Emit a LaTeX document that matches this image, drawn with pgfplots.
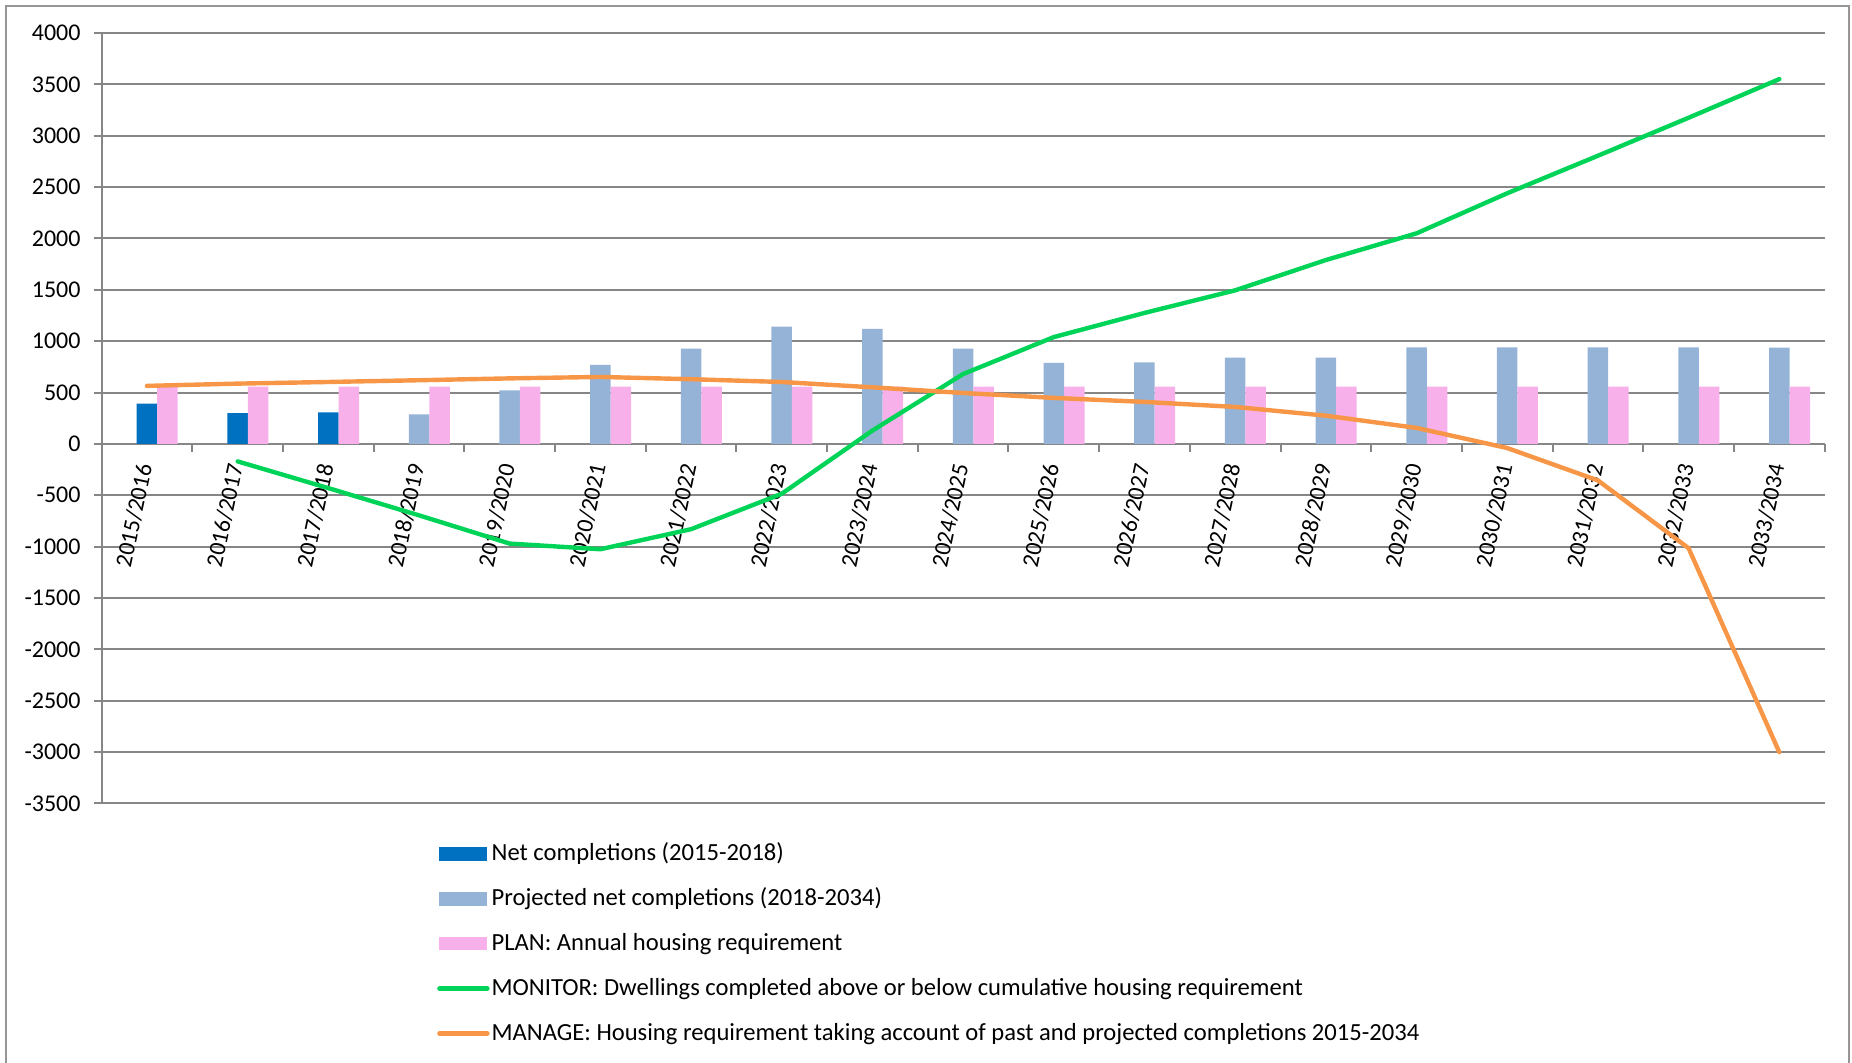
\documentclass[border=0pt]{standalone}
\usepackage{fontspec}
\setmainfont{Carlito}
\usepackage{pgfplots}
\pgfplotsset{compat=1.18}
\definecolor{netc}{RGB}{0,112,192}
\definecolor{projc}{RGB}{149,179,215}
\definecolor{planc}{RGB}{247,176,233}
\definecolor{monc}{RGB}{0,212,88}
\definecolor{manc}{RGB}{247,150,70}
\definecolor{gridc}{RGB}{134,134,134}
\definecolor{framec}{RGB}{150,150,150}
\newcommand{\chartfont}{\fontsize{12}{14}\selectfont}
\newcommand{\legfont}{\fontsize{12.3}{14}\selectfont}
\newcommand{\xlabfont}{\fontsize{11.8}{14}\selectfont}
\begin{document}
\begin{tikzpicture}
\begin{axis}[
  at={(50.8pt,129.75pt)}, anchor=south west,
  scale only axis, width=861.5pt, height=385.25pt,
  xmin=-0.5, xmax=18.5, ymin=-3500, ymax=4000,
  axis x line=middle, axis y line=left,
  hide obscured x ticks=false, hide obscured y ticks=false,
  x axis line style={-}, y axis line style={-},
  axis line style={draw=gridc, line width=1pt},
  ytick={-3500,-3000,-2500,-2000,-1500,-1000,-500,0,500,1000,1500,2000,2500,3000,3500,4000},
  yticklabels={-3500,-3000,-2500,-2000,-1500,-1000,-500,0,500,1000,1500,2000,2500,3000,3500,4000},
  ymajorgrids, grid style={draw=gridc, line width=1pt},
  xtick={0,...,18},
  xticklabels={2015/2016,2016/2017,2017/2018,2018/2019,2019/2020,2020/2021,2021/2022,2022/2023,2023/2024,2024/2025,2025/2026,2026/2027,2027/2028,2028/2029,2029/2030,2030/2031,2031/2032,2032/2033,2033/2034},
  minor xtick={-0.5,0.5,...,18.5},
  tick align=outside,
  major tick length=4pt, minor tick length=4pt,
  every tick/.style={draw=gridc, line width=1pt},
  major x tick style={draw=none},
  yticklabel style={font=\chartfont, xshift=-3pt},
  xticklabel style={font=\xlabfont, inner sep=0pt, xshift=-1pt, yshift=-6pt, rotate=78, anchor=east},
  legend cell align=left,
  legend style={at={(axis description cs:0.1948,-0.0506)}, anchor=north west,
    draw=none, fill=none, inner sep=0pt, outer sep=0pt,
    row sep=10.95pt, column sep=1pt,
    nodes={inner sep=0pt, text height=9pt, text depth=2.5pt, font=\legfont}},
]
\addplot[ybar, bar width=10.25pt, bar shift=0pt, fill=netc, draw=none,
  legend image code/.code={\fill[netc] (0pt,-3.35pt) rectangle (23.8pt,3.35pt);}]
  coordinates {(0,392) (1,300) (2,307)};
\addlegendentry{Net completions (2015-2018)}
\addplot[ybar, bar width=10.25pt, bar shift=0pt, fill=projc, draw=none,
  legend image code/.code={\fill[projc] (0pt,-3.35pt) rectangle (23.8pt,3.35pt);}]
  coordinates {(3,288) (4,522) (5,769) (6,927) (7,1141) (8,1119) (9,927) (10,790) (11,794) (12,840) (13,840) (14,940) (15,940) (16,940) (17,940) (18,938)};
\addlegendentry{Projected net completions (2018-2034)}
\addplot[ybar, bar width=10.25pt, bar shift=10.25pt, fill=planc, draw=none,
  legend image code/.code={\fill[planc] (0pt,-3.35pt) rectangle (23.8pt,3.35pt);}]
  coordinates {(0,557) (1,557) (2,557) (3,557) (4,557) (5,557) (6,557) (7,557) (8,557) (9,557) (10,557) (11,557) (12,557) (13,557) (14,557) (15,557) (16,557) (17,557) (18,557)};
\addlegendentry{PLAN: Annual housing requirement}
\addplot[monc, line width=2.2pt, line cap=round, line join=round,
  legend image code/.code={\draw[monc, line width=2.2pt] (0pt,0pt) -- (24pt,0pt);}]
  coordinates {(1,-170) (2,-430) (3,-695) (4,-970) (5,-1025) (6,-830) (7,-485) (8,130) (9,680) (10,1040) (11,1275) (12,1495) (13,1790) (14,2050) (15,2440) (16,2805) (17,3175) (18,3551)};
\addlegendentry{MONITOR: Dwellings completed above or below cumulative housing requirement}
\addplot[manc, line width=2.2pt, line cap=round, line join=round,
  legend image code/.code={\draw[manc, line width=2.2pt] (0pt,0pt) -- (24pt,0pt);}]
  coordinates {(0,565) (1,587) (2,603) (3,620) (4,638) (5,652) (6,630) (7,603) (8,551) (9,496) (10,448) (11,409) (12,360) (13,275) (14,156) (15,-40) (16,-355) (17,-1015) (18,-3000)};
\addlegendentry{MANAGE: Housing requirement taking account of past and projected completions 2015-2034}
\end{axis}
\draw[framec, line width=1pt] (2.85pt,-2pt) -- (2.85pt,528.5pt) -- (924.5pt,528.5pt) -- (924.5pt,-2pt);
\pgfresetboundingbox
\useasboundingbox (0pt,0pt) rectangle (926pt,531.5pt);
\end{tikzpicture}
\end{document}
